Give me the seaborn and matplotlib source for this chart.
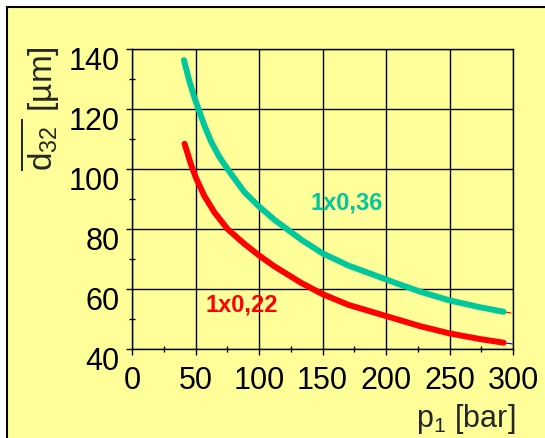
import numpy as np
import pandas as pd
import seaborn as sns
import matplotlib.pyplot as plt
import matplotlib.transforms as mtransforms
from matplotlib.patches import Rectangle
from matplotlib.ticker import MultipleLocator

# data
p1_036 = [40.9, 45.3, 49.2, 52.3, 57.0, 62.2, 68.8, 75.2, 88.3, 100.0,
          112.3, 124.2, 133.4, 150.0, 170.5, 200.0, 209.6, 227.0, 250.0, 274.3, 292.6]
d32_036 = [136.3, 129.1, 123.8, 120.0, 114.5, 109.2, 104.0, 100.0, 92.4, 87.5,
           83.0, 79.3, 76.4, 71.9, 67.8, 63.2, 61.7, 59.1, 56.2, 53.9, 52.4]
p1_022 = [41.4, 46.6, 50.5, 57.0, 64.8, 75.2, 88.3, 100.0, 112.3, 124.2,
          133.4, 150.0, 170.5, 200.0, 209.6, 227.0, 250.0, 274.3, 292.6]
d32_022 = [108.4, 101.3, 96.9, 91.0, 85.6, 80.0, 75.1, 71.2, 67.5, 64.4,
           62.0, 58.3, 54.7, 51.0, 49.8, 47.6, 45.2, 43.3, 42.1]
series_names = ['1x0,36', '1x0,22']

# tiny leftover line ends visible past the thick curves
tail_036_x = [292.6, 298.4]
tail_036_y = [52.4, 52.0]
tail_022_x = [292.6, 299.4]
tail_022_y = [42.1, 41.7]

sns.set_theme(style='ticks')
plt.rcParams['font.family'] = ['Liberation Sans', 'DejaVu Sans']
plt.rcParams['mathtext.fontset'] = 'custom'
plt.rcParams['mathtext.rm'] = 'Liberation Sans'
plt.rcParams['mathtext.it'] = 'Liberation Sans:italic'

yellow = '#FFFF99'
teal = '#00C89C'
red = '#FF0000'

df = pd.concat([
    pd.DataFrame({'p1': p1_036, 'd32': d32_036, 'nozzle': series_names[0]}),
    pd.DataFrame({'p1': p1_022, 'd32': d32_022, 'nozzle': series_names[1]}),
])

fig = plt.figure(figsize=(5.45, 4.38), dpi=100, facecolor='white')
# yellow frame with black border
fig.add_artist(Rectangle((7 / 545, -0.1), 1.2, (438 - 7) / 438 + 0.1,
                         transform=fig.transFigure, facecolor=yellow,
                         edgecolor='black', lw=1.5, zorder=0))

ax = fig.add_axes([132 / 545, (438 - 349) / 438, 381 / 545, 300 / 438])
ax.set_facecolor(yellow)

ax.plot(tail_036_x, tail_036_y, color=red, lw=0.8)
ax.plot(tail_022_x, tail_022_y, color='blue', lw=0.8)
sns.lineplot(data=df, x='p1', y='d32', hue='nozzle', palette=[teal, red],
             linewidth=4.3, legend=False, ax=ax, sort=False)

ax.set_xlim(0, 300)
ax.set_ylim(40, 140)
ax.xaxis.set_major_locator(MultipleLocator(50))
ax.xaxis.set_minor_locator(MultipleLocator(25))
ax.yaxis.set_major_locator(MultipleLocator(20))
ax.yaxis.set_minor_locator(MultipleLocator(10))
ax.grid(True, which='major', color='black', lw=1.0)
for s in ax.spines.values():
    s.set_visible(True)
    s.set_color('black')
    s.set_linewidth(1.0)

ax.tick_params(which='major', direction='out', length=4, width=1, color='black',
               labelsize=22, labelcolor='black')
ax.tick_params(which='minor', direction='inout', length=5, width=1, color='black')
ax.tick_params(axis='x', which='major', pad=8)
ax.tick_params(axis='y', which='major', pad=5)

# y tick labels sit a bit lower than their ticks in the reference
offset = mtransforms.ScaledTranslation(0, -9 / 100, fig.dpi_scale_trans)
for lab in ax.get_yticklabels():
    lab.set_transform(lab.get_transform() + offset)

ax.set_xlabel('')
ax.set_ylabel('')
ax.text(1.005, -0.26, r'p$_\mathregular{1}$ [bar]', transform=ax.transAxes,
        ha='right', va='baseline', fontsize=22)
ax.text(-0.241, 0.80, r'$\overline{\mathregular{d}_\mathregular{32}\,}$ [µm]',
        transform=ax.transAxes, rotation=90, ha='center', va='center', fontsize=24)

ax.text(169, 88.6, series_names[0], color=teal, fontsize=17, fontweight='bold',
        ha='center', va='center')
ax.text(86.4, 54.6, series_names[1], color=red, fontsize=17, fontweight='bold',
        ha='center', va='center')

fig.savefig('out.png', dpi=100, facecolor='white')
